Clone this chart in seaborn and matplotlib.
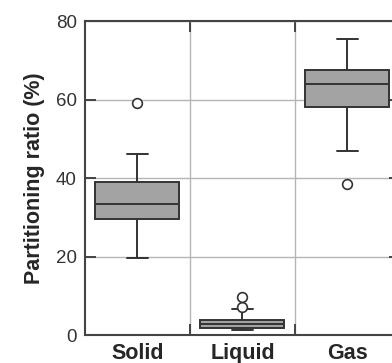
import numpy as np
import pandas as pd
import seaborn as sns
import matplotlib.pyplot as plt
from matplotlib.ticker import FixedLocator

# values (per phase, %)
phases = ['Solid', 'Liquid', 'Gas']
solid = [19.6, 26.0, 29.6, 31.5, 33.4, 36.0, 39.0, 46.1, 59.1]
liquid = [1.4, 1.5, 1.6, 1.85, 2.2, 2.5, 2.8, 3.1, 3.5, 3.8, 6.6, 7.2, 9.7]
gas = [38.5, 46.9, 58.1, 60.5, 64.0, 65.5, 67.5, 71.0, 75.4]
y_ticks = [0, 20, 40, 60, 80]

sns.set_style('white')
plt.rcParams['font.family'] = ['Liberation Sans', 'DejaVu Sans']

df = pd.DataFrame({
    'phase': ['Solid'] * len(solid) + ['Liquid'] * len(liquid) + ['Gas'] * len(gas),
    'ratio': solid + liquid + gas,
})

fig = plt.figure(figsize=(3.92, 3.63), dpi=100)
ax = fig.add_axes([0.2168, 0.0771, 0.8036, 0.865])

sns.boxplot(data=df, x='phase', y='ratio', order=phases, color='#a3a3a3',
            saturation=1, width=0.8, linecolor='#333333', linewidth=1.4,
            capwidths=0.2, ax=ax,
            flierprops=dict(marker='o', markerfacecolor='white',
                            markeredgecolor='#333333', markersize=7,
                            markeredgewidth=1.2))

ax.set_xlim(-0.5, 2.5)
ax.set_ylim(0, 80)
ax.set_yticks(y_ticks)
ax.xaxis.set_minor_locator(FixedLocator([0.5, 1.5]))
ax.set_axisbelow(True)
ax.grid(True, which='major', axis='y', color='#b5b5b5', linewidth=1)
ax.grid(True, which='minor', axis='x', color='#b5b5b5', linewidth=1)

for s in ax.spines.values():
    s.set_visible(True)
    s.set_color('#444444')
    s.set_linewidth(1.5)

ax.tick_params(axis='y', which='major', direction='in', left=True, right=True,
               length=8, width=1.4, color='#444444', labelsize=13.5,
               labelcolor='#333333', pad=6)
ax.tick_params(axis='x', which='major', length=0, labelsize=15.5, pad=6)
ax.tick_params(axis='x', which='minor', direction='in', top=True, bottom=True,
               length=8, width=1.4, color='#444444')
for lab in ax.get_xticklabels():
    lab.set_fontweight('bold')

ax.set_xlabel('')
ax.set_ylabel('Partitioning ratio (%)', fontsize=15.5, fontweight='bold', labelpad=8)

fig.savefig('out.png', dpi=100)
